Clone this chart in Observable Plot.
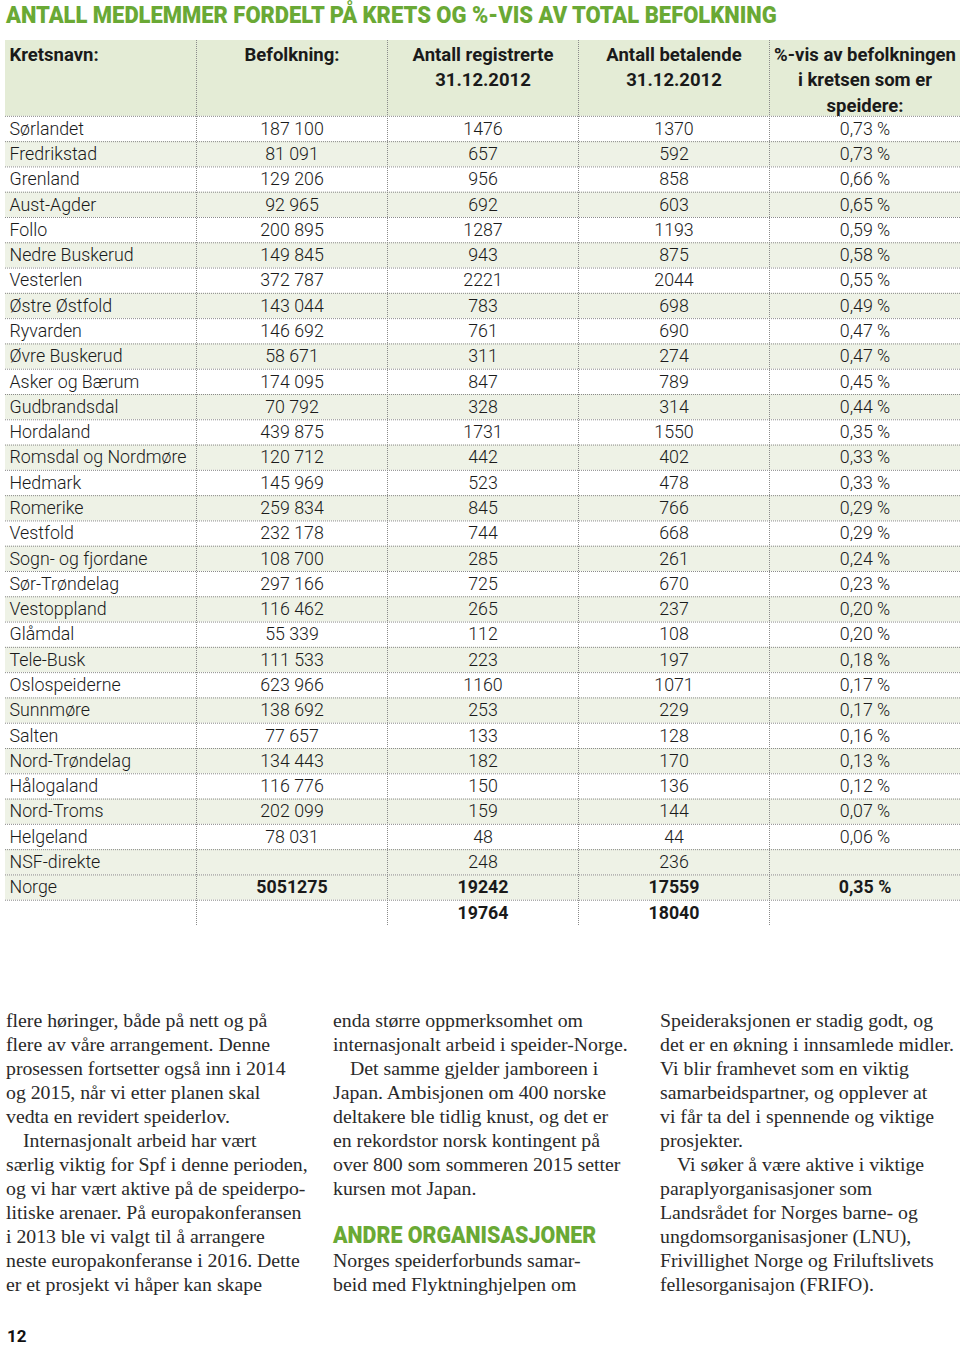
<!DOCTYPE html>
<html><head><meta charset="utf-8">
<script src="https://cdn.jsdelivr.net/npm/d3@7"></script>
<script src="https://cdn.jsdelivr.net/npm/@observablehq/plot@0.6"></script>
<style>
html,body{margin:0;padding:0;background:#fff;}
#page{position:relative;width:960px;height:1347px;overflow:hidden;}
.title{position:absolute;left:6px;top:1px;font-family:Roboto,sans-serif;font-weight:900;font-size:24px;color:#6aa935;white-space:nowrap;transform:scaleX(0.915);transform-origin:0 0;}
#table{position:absolute;left:0;top:0;}
.col{position:absolute;top:1008px;width:310px;font-family:"Liberation Serif",serif;font-size:19.8px;line-height:24px;color:#2a2a2a;white-space:nowrap;}
.col .ind{padding-left:17px;}
.col .h{display:inline-block;font-family:Roboto,sans-serif;font-weight:900;font-size:23px;color:#6aa935;transform:scaleX(0.93);transform-origin:0 50%;}
.pno{position:absolute;left:7px;top:1326px;font-family:Roboto,sans-serif;font-weight:700;font-size:17px;color:#111;}
</style></head>
<body><div id="page">
<div class="title">ANTALL MEDLEMMER FORDELT PÅ KRETS OG %-VIS AV TOTAL BEFOLKNING</div>
<div id="table"></div>
<div class="col" style="left:6px">flere høringer, både på nett og på<br>flere av våre arrangement. Denne<br>prosessen fortsetter også inn i 2014<br>og 2015, når vi etter planen skal<br>vedta en revidert speiderlov.<br><span class="ind">Internasjonalt arbeid har vært</span><br>særlig viktig for Spf i denne perioden,<br>og vi har vært aktive på de speiderpo-<br>litiske arenaer. På europakonferansen<br>i 2013 ble vi valgt til å arrangere<br>neste europakonferanse i 2016. Dette<br>er et prosjekt vi håper kan skape</div>
<div class="col" style="left:333px">enda større oppmerksomhet om<br>internasjonalt arbeid i speider-Norge.<br><span class="ind">Det samme gjelder jamboreen i</span><br>Japan. Ambisjonen om 400 norske<br>deltakere ble tidlig knust, og det er<br>en rekordstor norsk kontingent på<br>over 800 som sommeren 2015 setter<br>kursen mot Japan.<br>&nbsp;<br><span class="h">ANDRE ORGANISASJONER</span><br>Norges speiderforbunds samar-<br>beid med Flyktninghjelpen om</div>
<div class="col" style="left:660px">Speideraksjonen er stadig godt, og<br>det er en økning i innsamlede midler.<br>Vi blir framhevet som en viktig<br>samarbeidspartner, og opplever at<br>vi får ta del i spennende og viktige<br>prosjekter.<br><span class="ind">Vi søker å være aktive i viktige</span><br>paraplyorganisasjoner som<br>Landsrådet for Norges barne- og<br>ungdomsorganisasjoner (LNU),<br>Frivillighet Norge og Friluftslivets<br>fellesorganisajon (FRIFO).</div>
<div class="pno">12</div>
</div>
<script>
const headers = [["Kretsnavn:"],["Befolkning:"],["Antall registrerte","31.12.2012"],["Antall betalende","31.12.2012"],["%-vis av befolkningen","i kretsen som er","speidere:"]];
const kretser = ["Sørlandet","Fredrikstad","Grenland","Aust-Agder","Follo","Nedre Buskerud","Vesterlen","Østre Østfold","Ryvarden","Øvre Buskerud","Asker og Bærum","Gudbrandsdal","Hordaland","Romsdal og Nordmøre","Hedmark","Romerike","Vestfold","Sogn- og fjordane","Sør-Trøndelag","Vestoppland","Glåmdal","Tele-Busk","Oslospeiderne","Sunnmøre","Salten","Nord-Trøndelag","Hålogaland","Nord-Troms","Helgeland","NSF-direkte","Norge",""];
const befolkning = [187100,81091,129206,92965,200895,149845,372787,143044,146692,58671,174095,70792,439875,120712,145969,259834,232178,108700,297166,116462,55339,111533,623966,138692,77657,134443,116776,202099,78031,null,5051275,null];
const registrerte = [1476,657,956,692,1287,943,2221,783,761,311,847,328,1731,442,523,845,744,285,725,265,112,223,1160,253,133,182,150,159,48,248,19242,19764];
const betalende = [1370,592,858,603,1193,875,2044,698,690,274,789,314,1550,402,478,766,668,261,670,237,108,197,1071,229,128,170,136,144,44,236,17559,18040];
const prosent = [0.73,0.73,0.66,0.65,0.59,0.58,0.55,0.49,0.47,0.47,0.45,0.44,0.35,0.33,0.33,0.29,0.29,0.24,0.23,0.20,0.20,0.18,0.17,0.17,0.16,0.13,0.12,0.07,0.06,null,0.35,null];
const boldRows = ["Norge",""];
const tintedRows = ["NSF-direkte","Norge"];

const loc = d3.formatLocale({decimal:",", thousands:" ", grouping:[3], currency:["",""]});
const fGroup = loc.format(",");
const fPct = v => loc.format(".2f")(v) + " %";

const H = headers.reduce((m,h)=>Math.max(m,h.length),0);
const cells = [];
headers.forEach((lines,c)=>lines.forEach((t,j)=>cells.push({col:c,row:j,text:t,bold:true,head:true})));
kretser.forEach((k,i)=>{
  const r = H + i;
  const bold = boldRows.includes(k);
  const vals = [k,
    befolkning[i]==null?"":(bold?String(befolkning[i]):fGroup(befolkning[i])),
    registrerte[i]==null?"":String(registrerte[i]),
    betalende[i]==null?"":String(betalende[i]),
    prosent[i]==null?"":fPct(prosent[i])];
  vals.forEach((t,c)=>{ if(t!=="") cells.push({col:c,row:r,text:t,bold: bold && c>0,head:false}); });
});
const nRows = H + kretser.length;
const stripes = kretser.map((k,i)=>({k,i,r:H+i})).filter(d=>d.k!=="" && (d.i%2===1 || tintedRows.includes(d.k)));
const hLines = d3.range(H, nRows);
const vLines = d3.range(1, headers.length);

const txt = (data, opts) => Plot.text(data, {y:d=>d.row+0.5, text:"text", fontSize:17.8, fill:"#1a1a1a", ...opts});

const chart = Plot.plot({
  width:960, height:940,
  margin:0,
  x:{type:"linear", domain:[0,headers.length], range:[5,960], axis:null},
  y:{type:"linear", domain:[0,nRows], range:[40,925], axis:null},
  style:{background:"transparent", fontFamily:"Roboto, sans-serif", overflow:"visible"},
  marks:[
    Plot.rect([0],{x1:0,x2:headers.length,y1:0,y2:H,fill:"#e4ecd6"}),
    Plot.rect(stripes,{x1:0,x2:headers.length,y1:"r",y2:d=>d.r+1,fill:"#eef2e6"}),
    Plot.ruleY(hLines,{x1:0,x2:headers.length,y:d=>d,stroke:"#8a8a8a",strokeWidth:1,strokeDasharray:"1,1"}),
    Plot.ruleX(vLines,{x:d=>d,y1:0,y2:nRows,stroke:"#8a8a8a",strokeWidth:1,strokeDasharray:"1,1"}),
    txt(cells.filter(d=>d.col===0 && !d.bold),{x:"col",textAnchor:"start",dx:4,fontWeight:300}),
    txt(cells.filter(d=>d.col===0 && d.bold),{x:"col",textAnchor:"start",dx:4,fontWeight:700,fontSize:18.5,dy:2}),
    txt(cells.filter(d=>d.col>0 && !d.bold),{x:d=>d.col+0.5,textAnchor:"middle",fontWeight:300}),
    txt(cells.filter(d=>d.col>0 && d.bold && !d.head),{x:d=>d.col+0.5,textAnchor:"middle",fontWeight:700}),
    txt(cells.filter(d=>d.col>0 && d.head),{x:d=>d.col+0.5,textAnchor:"middle",fontWeight:700,fontSize:18.5,dy:2})
  ]
});
document.getElementById("table").appendChild(chart);
</script>
</body></html>
